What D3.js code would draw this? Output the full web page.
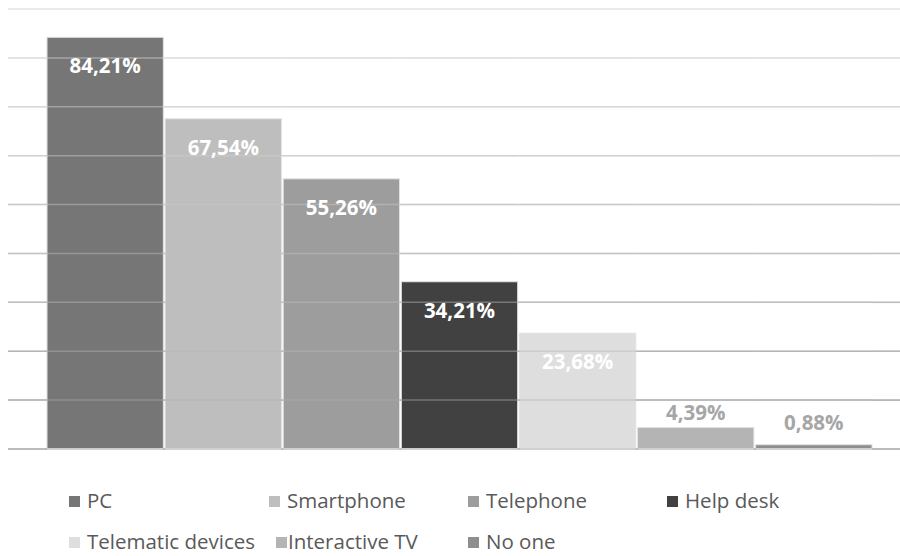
<!DOCTYPE html>
<html>
<head>
<meta charset="utf-8">
<script src="https://cdn.jsdelivr.net/npm/d3@7/dist/d3.min.js"></script>
<style>
  html, body { margin: 0; padding: 0; background: #ffffff; }
  svg { display: block; }
</style>
</head>
<body>
<svg id="chart" width="900" height="556"></svg>
<script>
const categories = ["PC", "Smartphone", "Telephone", "Help desk", "Telematic devices", "Interactive TV", "No one"];
const values = [84.21, 67.54, 55.26, 34.21, 23.68, 4.39, 0.88];
const valueLabels = ["84,21%", "67,54%", "55,26%", "34,21%", "23,68%", "4,39%", "0,88%"];
const colors = ["#767676", "#bebebe", "#9d9d9d", "#414141", "#dedede", "#b4b4b4", "#8e8e8e"];
const yTicks = [0, 10, 20, 30, 40, 50, 60, 70, 80, 90];

const svg = d3.select("#chart");
const W = 900, H = 556;

const x = d3.scaleBand().domain(categories).range([47, 872]).paddingInner(0.015).paddingOuter(0);
const y = d3.scaleLinear().domain([0, 90]).range([449, 9]);

const gridColor = d3.scaleLinear().domain([90, 0]).range(["#e6e6e6", "#a8a8a8"]);

// bars
svg.append("g").selectAll("rect").data(values).join("rect")
  .attr("x", (d, i) => x(categories[i]))
  .attr("y", d => y(d))
  .attr("width", x.bandwidth())
  .attr("height", d => y(0) - y(d))
  .attr("fill", (d, i) => colors[i])
  .attr("stroke", "#e2e2e2")
  .attr("stroke-width", 1);

// gridlines (drawn faintly over bars)
const grid = svg.append("g");
yTicks.filter(t => t > 0).forEach(t => {
  grid.append("line")
    .attr("x1", 8).attr("x2", W)
    .attr("y1", y(t)).attr("y2", y(t))
    .attr("stroke", gridColor(t))
    .attr("stroke-opacity", 0.45)
    .attr("stroke-width", 1.5);
});
// gridline segments outside bars at full strength
yTicks.filter(t => t > 0).forEach(t => {
  const segs = [[8, x(categories[0])]];
  categories.forEach((c, i) => {
    const right = x(c) + x.bandwidth();
    const next = i < categories.length - 1 ? x(categories[i + 1]) : W;
    segs.push([right, next]);
  });
  categories.forEach((c, i) => {
    if (y(values[i]) > y(t)) segs.push([x(c), x(c) + x.bandwidth()]);
  });
  segs.forEach(s => {
    grid.append("line")
      .attr("x1", s[0]).attr("x2", s[1])
      .attr("y1", y(t)).attr("y2", y(t))
      .attr("stroke", gridColor(t))
      .attr("stroke-width", 1.5);
  });
});
// baseline
svg.append("line")
  .attr("x1", 8).attr("x2", W)
  .attr("y1", y(0)).attr("y2", y(0))
  .attr("stroke", "#a6a6a6").attr("stroke-width", 1.5);
categories.forEach(c => {
  svg.append("line")
    .attr("x1", x(c)).attr("x2", x(c) + x.bandwidth())
    .attr("y1", y(0)).attr("y2", y(0))
    .attr("stroke", "#dadada").attr("stroke-width", 1.5);
});

// value labels
svg.append("g").selectAll("text").data(values).join("text")
  .attr("x", (d, i) => x(categories[i]) + x.bandwidth() / 2)
  .attr("y", d => d > 10 ? y(d) + 29 : Math.min(y(d) - 15, y(0) - 26))
  .attr("dy", "0.35em")
  .attr("text-anchor", "middle")
  .attr("font-family", "'Open Sans', sans-serif")
  .attr("font-weight", "bold")
  .attr("font-size", 20.5)
  .attr("fill", d => d > 10 ? "#ffffff" : "#a6a6a6")
  .text((d, i) => valueLabels[i]);

// legend: [swatch x, text x, baseline y]
const legendPos = [[69, 87, 508], [269, 287, 508], [468, 486, 508], [667, 685, 508],
                   [69, 87, 549], [276, 288, 549], [468, 486, 549]];
const lg = svg.append("g");
categories.forEach((c, i) => {
  const [sx, tx, by] = legendPos[i];
  lg.append("rect").attr("x", sx).attr("y", by - 12).attr("width", 11).attr("height", 11).attr("fill", colors[i]);
  lg.append("text").attr("x", tx).attr("y", by)
    .attr("font-family", "'Open Sans', sans-serif").attr("font-size", 20.5).attr("fill", "#595959")
    .text(c);
});
</script>
</body>
</html>
